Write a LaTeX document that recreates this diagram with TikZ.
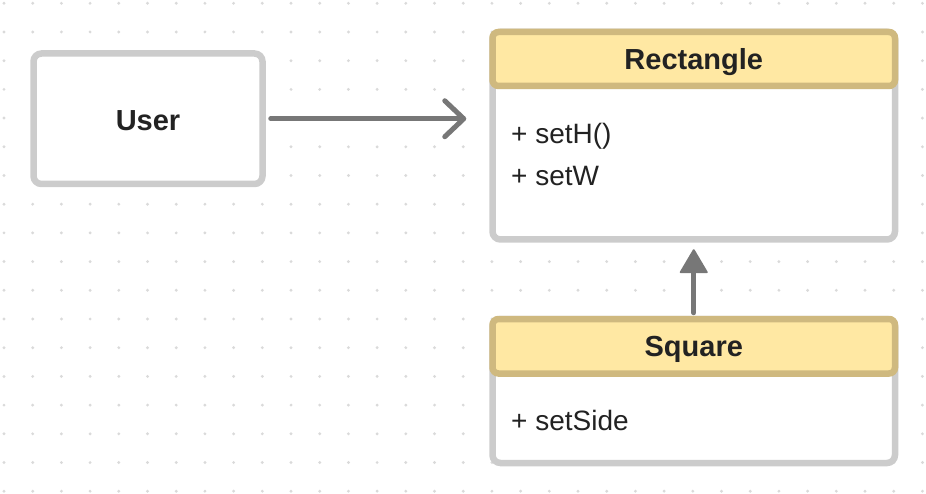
\documentclass[tikz,border=0pt]{standalone}
\usepackage{fontspec}
\setmainfont{Liberation Sans}
\usetikzlibrary{arrows.meta,calc}
\definecolor{boxgray}{HTML}{CCCCCC}
\definecolor{hdrfill}{HTML}{FFE8A3}
\definecolor{hdrdraw}{HTML}{CFB97F}
\definecolor{conncol}{HTML}{777777}
\definecolor{dotcol}{HTML}{DADADA}
\definecolor{txtcol}{HTML}{222222}
\tikzset{
  plainbox/.style={draw=boxgray, fill=white, line width=6.5pt, rounded corners=8pt, inner sep=0pt},
  hdrbox/.style={draw=hdrdraw, fill=hdrfill, line width=6.5pt, rounded corners=6pt, inner sep=0pt,
     minimum width=402.5pt, text=txtcol, text height=20.7pt, text depth=0pt,
     font=\fontsize{29}{30}\selectfont\bfseries},
  member/.style={anchor=base west, inner sep=0pt, text=txtcol, font=\fontsize{28}{30}\selectfont},
  conn/.style={draw=conncol, line width=5pt, line cap=round},
}
\begin{document}
\begin{tikzpicture}[x=1pt,y=-1pt]
\useasboundingbox (0,0) rectangle (926,494);
% dotted grid
\foreach \i in {0,...,32}{
  \foreach \j in {0,...,17}{
    \fill[dotcol] ({4+28.7*\i},{3.3+28.7*\j}) circle (1.6pt);
  }
}
% User
\node[plainbox, minimum width=229pt, minimum height=130.5pt, text=txtcol,
      text height=20.7pt, text depth=0pt,
      font=\fontsize{29}{30}\selectfont\bfseries] (user) at (148,118.75) {\raisebox{-1.5pt}{User}};
% Rectangle class
\node[plainbox, minimum width=402.5pt, minimum height=207.5pt] (rectbody) at (693.75,135.75) {};
\node[hdrbox, minimum height=54pt] (recthead) at (693.75,59) {Rectangle};
\node[member] (m1) at (511,144) {+ setH()};
\node[member] (m2) at (511,185.7) {+ setW};
% Square class
\node[plainbox, minimum width=402.5pt, minimum height=144pt] (sqbody) at (693.75,391) {};
\node[hdrbox, minimum height=54.5pt] (sqhead) at (693.75,346.25) {Square};
\node[member] (m3) at (511,430) {+ setSide};
% association arrow
\draw[conn, shorten <=5pt, shorten >=23pt,
      -{Straight Barb[length=19pt,width=36pt,round]}]
  (user.east) -- (rectbody.west |- user.east);
% inheritance arrow
\coordinate (tritip) at ($(rectbody.south)+(0,7.5)$);
\coordinate (tribase) at ($(rectbody.south)+(0,29.5)$);
\draw[conn, shorten <=3pt] (sqhead.north) -- (tribase);
\filldraw[conncol, line width=2pt, line join=round]
  (tritip) -- ($(tribase)+(-13,0)$) -- ($(tribase)+(13,0)$) -- cycle;
\end{tikzpicture}
\end{document}
